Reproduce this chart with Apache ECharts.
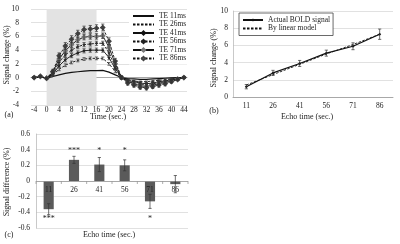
<!DOCTYPE html>
<html>
<head>
<meta charset="utf-8">
<script src="https://cdn.jsdelivr.net/npm/echarts@6/dist/echarts.min.js"></script>
<style>
  html, body { margin: 0; padding: 0; background: #fff; }
  #chart { width: 400px; height: 244px; }
</style>
</head>
<body>
<div id="chart"></div>
<script>
// panel (a): time course for each echo time
const times = ['-4','-2','0','2','4','6','8','10','12','14','16','18','20','22','24','26','28','30','32','34','36','38','40','42','44']
const te11 = [0, 0.05, -0.05, 0.15, 0.4, 0.6, 0.75, 0.85, 0.95, 1.0, 1.0, 1.05, 0.8, 0.4, 0, -0.15, -0.2, -0.25, -0.25, -0.2, -0.15, -0.1, -0.05, 0, 0]
const te26 = [0, 0.1, -0.1, 0.4, 1.2, 1.8, 2.2, 2.5, 2.7, 2.8, 2.8, 2.8, 2.0, 0.9, 0, -0.3, -0.5, -0.6, -0.6, -0.5, -0.4, -0.3, -0.2, -0.1, 0]
const te41 = [0, 0.1, -0.1, 0.5, 1.7, 2.6, 3.2, 3.6, 3.9, 4.0, 4.0, 4.0, 2.9, 1.3, 0, -0.4, -0.6, -0.8, -0.9, -0.8, -0.6, -0.5, -0.3, -0.1, 0]
const te56 = [0, 0.15, -0.1, 0.6, 2.2, 3.3, 4.0, 4.5, 4.8, 4.9, 5.0, 5.0, 3.6, 1.6, 0, -0.5, -0.8, -1.0, -1.1, -0.9, -0.8, -0.6, -0.4, -0.2, 0]
const te71 = [0, 0.15, -0.1, 0.8, 2.7, 3.9, 4.8, 5.5, 5.9, 6.0, 6.0, 6.1, 4.4, 2.0, 0, -0.6, -0.9, -1.2, -1.3, -1.1, -0.9, -0.7, -0.5, -0.2, 0]
const te86 = [0, 0.2, -0.1, 0.9, 3.2, 4.6, 5.6, 6.4, 7.0, 7.1, 7.2, 7.3, 5.3, 2.4, 0, -0.8, -1.1, -1.4, -1.5, -1.3, -1.1, -0.9, -0.6, -0.3, 0]
const err26 = [0, 0, 0, 0.1, 0.2, 0.2, 0.2, 0.2, 0.2, 0.2, 0.2, 0.2, 0.2, 0.2, 0.1, 0.1, 0.1, 0.1, 0.1, 0.1, 0.1, 0.1, 0.1, 0, 0]
const err41 = [0, 0, 0, 0.2, 0.2, 0.3, 0.3, 0.3, 0.3, 0.3, 0.3, 0.3, 0.3, 0.2, 0.1, 0.2, 0.2, 0.2, 0.2, 0.2, 0.2, 0.1, 0.1, 0.1, 0]
const err56 = [0.1, 0.1, 0.1, 0.2, 0.3, 0.3, 0.3, 0.3, 0.3, 0.3, 0.3, 0.3, 0.3, 0.3, 0.2, 0.2, 0.2, 0.2, 0.2, 0.2, 0.2, 0.2, 0.1, 0.1, 0.1]
const err71 = [0.1, 0.1, 0.1, 0.2, 0.3, 0.4, 0.4, 0.4, 0.4, 0.4, 0.4, 0.4, 0.4, 0.3, 0.2, 0.2, 0.3, 0.3, 0.3, 0.3, 0.2, 0.2, 0.2, 0.1, 0.1]
const err86 = [0.1, 0.1, 0.1, 0.3, 0.4, 0.5, 0.5, 0.5, 0.5, 0.5, 0.5, 0.5, 0.5, 0.4, 0.2, 0.3, 0.3, 0.3, 0.3, 0.3, 0.3, 0.3, 0.2, 0.1, 0.1]
const stimOn = '0'
const stimOff = '16'

// panel (b): peak signal vs echo time
const echoTimes = ['11', '26', '41', '56', '71', '86']
const boldActual = [1.2, 2.8, 3.9, 5.1, 5.9, 7.3]
const boldActualErr = [0.25, 0.3, 0.35, 0.35, 0.4, 0.6]
const boldModel = [1.4, 2.6, 3.8, 5.0, 6.1, 7.3]

// panel (c): difference actual - model
const diffVals = [-0.36, 0.27, 0.21, 0.20, -0.26, -0.04]
const diffErr = [0.07, 0.045, 0.09, 0.07, 0.09, 0.11]
const sigStars = ['***', '***', '*', '*', '*', '']

const FONT = 'Liberation Serif'
const INK = '#222'
const txt = { fontFamily: FONT, fontSize: 7.5, color: INK }
const gridLine = { lineStyle: { color: '#d9d9d9', width: 0.8 } }

function errData(vals, errs) {
  return vals.map((v, i) => [i, v - errs[i], v + errs[i], errs[i]])
}

function errRender(params, api) {
  if (!api.value(3)) return null
  const x = api.value(0)
  const top = api.coord([x, api.value(2)])
  const bot = api.coord([x, api.value(1)])
  const w = 1.6
  const st = { stroke: '#333', lineWidth: 0.7 }
  return {
    type: 'group',
    children: [
      { type: 'line', shape: { x1: top[0], y1: top[1], x2: bot[0], y2: bot[1] }, style: st },
      { type: 'line', shape: { x1: top[0] - w, y1: top[1], x2: top[0] + w, y2: top[1] }, style: st },
      { type: 'line', shape: { x1: bot[0] - w, y1: bot[1], x2: bot[0] + w, y2: bot[1] }, style: st }
    ]
  }
}

function errSeries(xi, vals, errs) {
  return {
    type: 'custom', xAxisIndex: xi, yAxisIndex: xi,
    data: errData(vals, errs),
    encode: { x: 0, y: [1, 2] },
    renderItem: errRender,
    silent: true, z: 5
  }
}

function lineSeries(name, data, dashed, symbol, color) {
  return {
    name: name, type: 'line', xAxisIndex: 0, yAxisIndex: 0, data: data,
    symbol: symbol || 'none', symbolSize: symbol === 'emptyDiamond' ? 3 : 2.5,
    showSymbol: !!symbol,
    itemStyle: { color: color || '#111', borderColor: color || '#111', borderWidth: 0.6 },
    lineStyle: { color: '#111', width: 0.9, type: dashed ? [2.5, 1.5] : 'solid' },
    z: 4
  }
}

// text of axis names, kept as plain text elements
function label(text, x, y, rotate) {
  return {
    type: 'text', x: x, y: y, rotation: rotate ? Math.PI / 2 : 0, silent: true,
    style: { text: text, fontFamily: FONT, fontSize: 8, fill: INK, align: 'center', verticalAlign: 'middle' }
  }
}

const chart = echarts.init(document.getElementById('chart'), null, { renderer: 'canvas' })

const series = [
  Object.assign(lineSeries('TE 11ms', te11, false), { lineStyle: { color: '#111', width: 1.2 },
    markArea: { silent: true, itemStyle: { color: '#e3e3e3' }, data: [[{ xAxis: stimOn }, { xAxis: stimOff }]] } }),
  lineSeries('TE 26ms', te26, true),
  lineSeries('TE 41ms', te41, false, 'diamond', '#111'),
  lineSeries('TE 56ms', te56, true, 'diamond', '#222'),
  lineSeries('TE 71ms', te71, false, 'emptyDiamond', '#777'),
  lineSeries('TE 86ms', te86, true, 'emptyDiamond', '#444'),
  errSeries(0, te26, err26),
  errSeries(0, te41, err41),
  errSeries(0, te56, err56),
  errSeries(0, te71, err71),
  errSeries(0, te86, err86),
  {
    name: 'Actual BOLD signal', type: 'line', xAxisIndex: 1, yAxisIndex: 1, data: boldActual,
    symbol: 'diamond', symbolSize: 3,
    itemStyle: { color: '#111' }, lineStyle: { color: '#111', width: 1.2 }, z: 4
  },
  {
    name: 'By linear model', type: 'line', xAxisIndex: 1, yAxisIndex: 1, data: boldModel,
    symbol: 'none', showSymbol: false,
    itemStyle: { color: '#111' }, lineStyle: { color: '#111', width: 0.9, type: [2.5, 1.5] }, z: 3
  },
  errSeries(1, boldActual, boldActualErr),
  {
    type: 'bar', xAxisIndex: 2, yAxisIndex: 2, data: diffVals, barWidth: '40%',
    itemStyle: { color: '#5a5a5a' }, z: 2,
    markLine: {
      silent: true, symbol: ['none', 'none'], label: { show: false },
      lineStyle: { color: '#999', width: 0.8, type: 'solid' },
      data: [{ yAxis: 0 }]
    }
  },
  errSeries(2, diffVals, diffErr),
  {
    // category labels and ticks of panel (c), sitting on the zero line
    type: 'custom', xAxisIndex: 2, yAxisIndex: 2,
    data: echoTimes.map((c, i) => [i, 0]),
    encode: { x: 0, y: 1 },
    renderItem: function (params, api) {
      const i = api.value(0)
      const p = api.coord([i, 0])
      const bw = api.size([1, 0])[0]
      const tick = { stroke: '#999', lineWidth: 0.8 }
      const kids = [
        { type: 'text', x: p[0], y: p[1] + 9.5, style: { text: echoTimes[i], fontFamily: FONT, fontSize: 7.5, fill: INK, align: 'center', verticalAlign: 'middle' } },
        { type: 'line', shape: { x1: p[0] - bw / 2, y1: p[1], x2: p[0] - bw / 2, y2: p[1] + 3 }, style: tick }
      ]
      if (i === echoTimes.length - 1) {
        kids.push({ type: 'line', shape: { x1: p[0] + bw / 2, y1: p[1], x2: p[0] + bw / 2, y2: p[1] + 3 }, style: tick })
      }
      return { type: 'group', children: kids }
    },
    silent: true, z: 6
  },
  {
    type: 'custom', xAxisIndex: 2, yAxisIndex: 2,
    data: diffVals.map((v, i) => [i, v > 0 ? 0.38 : -0.49, i]),
    encode: { x: 0, y: 1 },
    renderItem: function (params, api) {
      const p = api.coord([api.value(0), api.value(1)])
      return { type: 'text', x: p[0], y: p[1], style: { text: sigStars[api.value(2)], fontFamily: FONT, fontSize: 8, fill: INK, align: 'center', verticalAlign: 'middle' } }
    },
    silent: true, z: 6
  }
]

const noMark = { opacity: 0 }

chart.setOption({
  animation: false,
  backgroundColor: '#fff',
  grid: [
    { left: 31, top: 9, width: 156, height: 96, outerBoundsMode: 'none', containLabel: false },
    { left: 233, top: 11, width: 160, height: 86, outerBoundsMode: 'none', containLabel: false },
    { left: 36, top: 134, width: 152, height: 94, outerBoundsMode: 'none', containLabel: false }
  ],
  legend: [
    {
      data: [
        { name: 'TE 11ms', itemStyle: noMark },
        { name: 'TE 26ms', itemStyle: noMark },
        'TE 41ms', 'TE 56ms', 'TE 71ms', 'TE 86ms'
      ],
      orient: 'vertical', left: 129, top: 10, itemGap: 0.5, itemWidth: 21, itemHeight: 4,
      backgroundColor: '#fff', padding: [2, 3], textStyle: txt
    },
    {
      data: ['Actual BOLD signal', { name: 'By linear model', itemStyle: noMark }],
      orient: 'vertical', left: 239, top: 13, itemGap: 0.5, itemWidth: 20, itemHeight: 4,
      backgroundColor: '#fff', borderColor: '#444', borderWidth: 0.8, padding: [3, 3], textStyle: txt
    }
  ],
  xAxis: [
    {
      gridIndex: 0, type: 'category', data: times,
      axisLine: { onZero: true, lineStyle: { color: '#999', width: 0.8 } },
      axisTick: { interval: 0, length: 2.5, lineStyle: { color: '#999' } },
      axisLabel: Object.assign({ interval: 1, margin: 1 }, txt)
    },
    {
      gridIndex: 1, type: 'category', data: echoTimes,
      axisLine: { lineStyle: { color: '#999', width: 0.8 } },
      axisTick: { length: 3, lineStyle: { color: '#999' } },
      axisLabel: Object.assign({ margin: 5 }, txt)
    },
    {
      gridIndex: 2, type: 'category', data: echoTimes,
      axisLine: { show: false }, axisTick: { show: false }, axisLabel: { show: false }
    }
  ],
  yAxis: [
    {
      gridIndex: 0, type: 'value', min: -4, max: 10, interval: 2,
      axisLine: { show: false }, axisTick: { show: false },
      axisLabel: Object.assign({ margin: 12 }, txt), splitLine: gridLine
    },
    {
      gridIndex: 1, type: 'value', min: 0, max: 10, interval: 2,
      axisLine: { show: true, lineStyle: { color: '#bbb', width: 0.8 } }, axisTick: { show: false },
      axisLabel: Object.assign({ margin: 5 }, txt), splitLine: gridLine
    },
    {
      gridIndex: 2, type: 'value', min: -0.6, max: 0.6, interval: 0.2,
      axisLine: { show: true, lineStyle: { color: '#bbb', width: 0.8 } }, axisTick: { show: false },
      axisLabel: Object.assign({ margin: 6, formatter: v => String(Math.round(v * 10) / 10) }, txt),
      splitLine: gridLine
    }
  ],
  graphic: [
    label('Signal change (%)', 7, 55, true),
    label('Time (sec.)', 108, 117),
    label('(a)', 9, 115),
    label('Signal change (%)', 214, 58, true),
    label('Echo time (sec.)', 307, 117),
    label('(b)', 214, 111),
    label('Signal difference (%)', 7, 182, true),
    label('Echo time (sec.)', 109, 235),
    label('(c)', 9, 235)
  ],
  series: series
})
</script>
</body>
</html>
